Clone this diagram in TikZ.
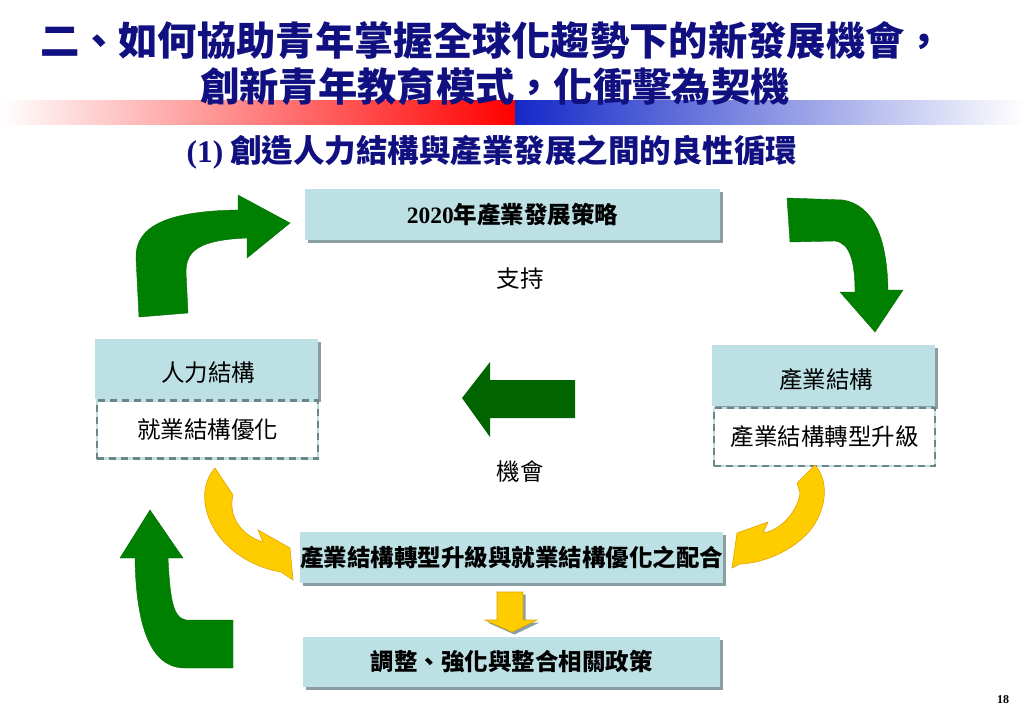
\documentclass[tikz,border=0pt]{standalone}
\usepackage{fontspec}
\setmainfont{Noto Sans CJK TC}
\newfontfamily\tnr{Liberation Serif}
\usetikzlibrary{shadows}
\definecolor{boxblue}{RGB}{188,224,228}
\definecolor{shadowgray}{RGB}{138,158,164}
\definecolor{dashgray}{RGB}{110,132,136}
\definecolor{arrgreen}{RGB}{0,128,0}
\definecolor{darkgreen}{RGB}{0,100,0}
\definecolor{arryellow}{RGB}{255,204,0}
\definecolor{yellowedge}{RGB}{222,166,0}
\definecolor{navy}{RGB}{16,16,128}
\definecolor{barred}{RGB}{255,0,0}
\definecolor{barblue}{RGB}{20,40,200}
\begin{document}
\begin{tikzpicture}[x=1pt,y=-1pt,
  shadowed/.style={drop shadow={shadow xshift=2.5pt,shadow yshift=-2.5pt,fill=shadowgray,opacity=1}},
  box/.style={fill=boxblue,draw=none,inner sep=0pt,shadowed},
  dbox/.style={fill=white,draw=boxblue,line width=2.5pt,inner sep=0pt,
     postaction={draw=dashgray,dash pattern=on 7pt off 5pt,line width=2.5pt}},
  reg/.style={font=\fontsize{23.5}{27}\selectfont},
  bld/.style={font=\fontsize{23.5}{27}\selectfont\bfseries},
  plain/.style={inner sep=0pt},
  bigarrow/.style={fill=arrgreen,draw=arrgreen!85!black,line width=0.4pt},
  yarrow/.style={fill=arryellow,draw=yellowedge,line width=0.6pt}
]
\useasboundingbox (0,0) rectangle (1024,709);
\fill[white] (0,0) rectangle (1024,709);

% gradient bar
\shade[left color=white,right color=barred] (0,100) rectangle (515,124);
\shade[left color=barblue,right color=white] (515,100) rectangle (1024,124);

% titles
\node[plain,text=navy,font=\fontsize{39.3}{42}\selectfont\bfseries] (t1) at (492,41) {二、如何協助青年掌握全球化趨勢下的新發展機會，};
\node[plain,text=navy,font=\fontsize{39.3}{42}\selectfont\bfseries] (t2) at (495,87) {創新青年教育模式，化衝擊為契機};
\node[plain,text=navy,font=\fontsize{31.5}{34}\selectfont\bfseries] (sub) at (492,152) {{\tnr (1)} 創造人力結構與產業發展之間的良性循環};

% boxes
\node[box,bld,minimum width=415pt,minimum height=51pt] (strat) at (512.5,214.5) {{\tnr\bfseries 2020}年產業發展策略};
\node[plain,reg] (support) at (520,279) {支持};

\node[box,reg,minimum width=223pt,minimum height=60pt,anchor=north west] (hr) at (95,339) {};
\node[plain,reg] (hrt) at (208,373) {人力結構};
\node[dbox,reg,minimum width=221pt,minimum height=58pt] (hrd) at (207.5,429.5) {就業結構優化};

\node[box,reg,minimum width=223pt,minimum height=61pt,anchor=north west] (ind) at (712,345) {};
\node[plain,reg] (indt) at (826,380) {產業結構};
\node[dbox,reg,minimum width=221pt,minimum height=58pt] (indd) at (824.5,437) {產業結構轉型升級};

\node[plain,reg] (opp) at (520,472) {機會};

\node[box,bld,minimum width=417pt,minimum height=51pt] (coop) at (511.5,557.5) {產業結構轉型升級與就業結構優化之配合};
\node[box,bld,minimum width=417pt,minimum height=50pt] (pol) at (511.5,662) {調整、強化與整合相關政策};

\node[plain,font=\tnr\bfseries\fontsize{12}{14}\selectfont] (page) at (1003,700) {18};

% big green arrows
\path[bigarrow] (139,317) -- (136,258) .. controls (135,225) and (170,211) .. (238,210)
  -- (238,195) -- (290,223) -- (247,258) -- (247,238)
  .. controls (200,240) and (186,250) .. (186,272) -- (188,313) -- cycle;
\path[bigarrow] (787,198) -- (843,200) .. controls (872,205) and (887,235) .. (888,290)
  -- (903,290) -- (875,332) -- (840,292) -- (855,292)
  .. controls (855,262) and (850,243) .. (835,241) -- (790,242) -- cycle;
\path[bigarrow] (150,510) -- (183,558) -- (168,558) .. controls (170,595) and (172,618) .. (186,620)
  -- (233,620) -- (233,668) -- (185,668) .. controls (150,668) and (136,625) .. (135,558)
  -- (120,558) -- cycle;
% middle arrow
\path[fill=darkgreen] (462,398) -- (490,362) -- (490,380) -- (575,380) -- (575,418) -- (490,418) -- (490,437) -- cycle;

% yellow arrows
\path[yarrow] (215,468) -- (233,495) .. controls (228,515) and (240,535) .. (263,542)
  -- (258,530) -- (290,548) -- (293,580) -- (281,572)
  .. controls (245,566) and (210,540) .. (205,503) .. controls (203,488) and (208,476) .. (215,468) -- cycle;
\path[yarrow] (815,465) .. controls (828,480) and (828,505) .. (812,528)
  .. controls (795,550) and (765,563) .. (740,564) -- (732,568) -- (737,533) -- (768,522) -- (763,533)
  .. controls (782,530) and (798,510) .. (800,493) -- (797,483) -- cycle;
\path[yarrow,shadowed] (497,592) -- (523,592) -- (523,620) -- (537,620) -- (512,632) -- (485,620) -- (497,620) -- cycle;
\end{tikzpicture}
\end{document}
